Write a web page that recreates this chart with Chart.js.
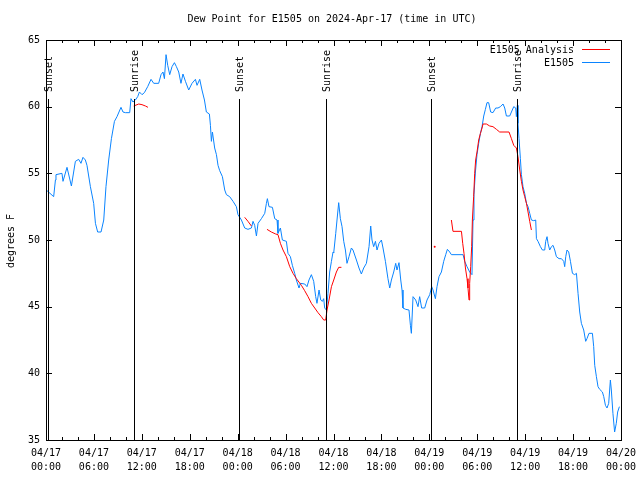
<!DOCTYPE html>
<html>
<head>
<meta charset="utf-8">
<script src="https://cdn.jsdelivr.net/npm/chart.js@4/dist/chart.umd.min.js"></script>
<style>
html,body{margin:0;padding:0;background:#fff;}
#wrap{width:640px;height:480px;position:relative;}
</style>
</head>
<body>
<div id="wrap"><canvas id="c" width="640" height="480"></canvas></div>
<script>
// ---- DATA (hours since 2024-04-17 00:00 UTC) ----
const chartTitle = "Dew Point for E1505 on 2024-Apr-17 (time in UTC)";
const yLabel = "degrees F";
const seriesNames = ["E1505 Analysis", "E1505"];

const obsHours = [0.13,0.96,1.18,1.25,2.0,2.13,2.63,3.18,3.68,4.09,4.38,4.63,4.93,5.13,5.56,5.97,6.19,6.47,6.89,7.23,7.51,7.85,8.19,8.57,8.89,9.39,9.64,9.94,10.48,10.64,10.89,11.19,11.48,11.7,12.02,12.32,12.73,13.15,13.49,14.11,14.4,14.65,14.83,15.03,15.24,15.49,15.78,16.08,16.33,16.62,16.9,17.15,17.46,17.87,18.28,18.71,18.91,19.25,19.53,19.84,20.08,20.46,20.59,20.71,20.84,21.12,21.34,21.54,21.75,22.09,22.38,22.59,23.0,23.42,23.84,24.04,24.47,24.88,25.29,25.72,25.92,26.13,26.35,26.55,26.97,27.39,27.6,27.72,27.92,28.35,28.64,28.93,29.05,29.35,29.6,30.1,30.3,30.6,30.85,31.14,31.35,31.68,31.86,32.4,32.68,32.93,33.23,33.52,33.77,33.93,34.19,34.4,34.61,34.77,34.9,35.11,35.31,35.52,35.74,35.94,36.03,36.28,36.44,36.65,36.86,37.07,37.28,37.49,37.69,37.94,38.24,38.44,38.87,39.19,39.49,39.78,40.12,40.45,40.66,40.82,41.03,41.25,41.45,41.7,42.0,42.2,42.5,42.82,43.04,43.25,43.54,43.79,43.95,44.2,44.42,44.58,44.7,45.04,45.45,45.63,45.75,45.96,46.29,46.58,46.79,47.04,47.42,47.71,48.05,48.3,48.46,48.76,48.96,49.21,49.51,49.8,50.05,50.26,50.55,50.76,52.22,52.43,52.72,53.05,53.34,53.47,53.59,53.77,53.97,54.18,54.4,54.6,54.81,55.02,55.22,55.43,55.68,55.97,56.31,56.6,56.9,57.23,57.44,57.65,58.06,58.28,58.57,58.82,58.9,59.03,59.1,59.23,59.4,59.53,59.73,59.94,60.16,60.36,60.57,60.78,61.07,61.32,61.41,61.61,61.91,62.16,62.45,62.57,62.74,62.86,63.07,63.29,63.49,63.7,63.91,64.24,64.54,64.83,64.95,65.08,65.24,65.45,65.67,65.92,66.2,66.42,66.62,66.83,67.04,67.33,67.58,67.74,67.99,68.42,68.58,68.71,68.92,69.12,69.33,69.67,69.84,70.05,70.25,70.46,70.67,70.79,70.99,71.2,71.41,71.58,71.8];
const obsValues = [53.7,53.25,54.5,54.9,55.0,54.4,55.45,54.05,55.9,56.05,55.75,56.2,56.0,55.6,54.0,52.75,51.25,50.6,50.6,51.5,54.0,56.0,57.6,58.9,59.25,59.95,59.6,59.55,59.55,60.6,60.35,60.5,60.75,61.1,60.9,61.05,61.5,62.05,61.75,61.75,62.4,62.6,62.1,63.9,63.1,62.4,63.0,63.3,63.0,62.6,61.75,62.45,61.9,61.25,61.75,62.05,61.6,62.05,61.25,60.5,59.6,59.45,58.6,57.4,58.1,56.9,56.4,55.6,55.2,54.75,53.75,53.4,53.25,52.9,52.5,51.9,51.5,50.9,50.8,50.9,51.4,51.1,50.3,51.25,51.6,52.0,52.75,53.1,52.5,52.45,51.6,51.5,50.5,50.9,50.0,49.9,49.0,48.75,48.1,47.5,47.0,46.4,46.75,46.7,46.5,47.0,47.4,46.9,45.75,45.25,46.25,45.5,45.4,45.6,44.9,44.75,46.0,47.6,48.4,49.1,49.05,50.5,51.5,52.8,51.6,51.0,49.9,49.25,48.25,48.75,49.4,49.25,48.5,47.9,47.45,47.9,48.25,49.5,51.05,50.0,49.5,49.9,49.25,49.75,50.0,49.4,48.4,47.1,46.4,47.0,47.6,48.25,47.75,48.3,47.0,46.25,44.9,44.8,44.75,43.6,43.0,45.75,45.5,45.0,45.75,44.9,44.9,45.5,45.9,46.5,46.25,45.6,46.5,47.25,47.6,48.4,48.9,49.3,49.1,48.9,48.9,48.4,48.0,47.6,47.4,51.5,53.4,55.1,56.4,57.25,58.0,58.5,59.3,59.8,60.3,60.3,59.6,59.55,59.9,59.9,60.0,60.2,59.9,59.3,59.3,59.6,60.0,59.9,59.25,60.1,58.75,57.6,56.1,54.9,54.0,53.5,52.75,52.5,52.0,51.5,51.45,51.5,50.1,49.9,49.5,49.25,49.25,49.9,50.25,49.75,49.25,49.5,49.6,49.25,48.75,48.6,48.6,48.4,48.0,48.75,49.25,49.1,48.4,47.5,47.4,47.5,46.0,44.6,43.75,43.25,42.4,42.6,43.0,43.0,42.0,40.6,39.75,39.0,38.8,38.6,38.25,37.6,37.4,37.75,39.5,38.75,37.0,35.6,36.25,37.1,37.5];

// analysis series; null marks a gap
const anaHours = [10.98,11.61,12.02,12.45,12.77,18.0,24.88,25.29,25.72,26.5,27.67,28.22,28.76,29.05,29.35,29.68,30.1,30.52,30.93,31.35,31.98,32.39,32.81,33.23,33.65,34.06,34.48,34.77,35.02,35.19,35.44,35.74,36.03,36.36,36.65,36.99,42.0,48.67,49.5,50.76,50.96,52.02,52.18,52.34,52.52,52.72,52.84,52.97,53.05,53.18,53.3,53.39,53.55,53.68,53.8,53.97,54.18,54.4,54.6,54.72,55.15,55.56,55.97,56.4,56.81,57.98,58.28,58.57,58.9,59.1,59.32,59.53,59.73,59.94,60.16,60.36,60.57,60.78];
const anaValues = [60.05,60.2,60.15,60.05,59.95,null,51.7,51.4,51.05,null,50.8,50.6,50.45,50.4,49.75,49.25,48.75,48.0,47.5,47.1,46.6,46.2,45.75,45.25,44.9,44.55,44.25,44.0,44.0,44.75,45.5,46.5,47.0,47.6,47.95,47.95,null,49.5,null,51.5,50.65,50.65,49.75,49.0,47.9,47.1,46.4,45.5,46.75,48.0,49.5,51.5,53.25,55.0,56.0,56.6,57.5,58.0,58.4,58.7,58.7,58.55,58.5,58.3,58.1,58.1,57.6,57.1,56.9,56.25,55.25,54.4,53.75,53.25,52.75,52.1,51.4,50.75];

const sunHours  = [0.22, 11.02, 24.17, 35.06, 48.26, 58.98];
const sunLabels = ["Sunset","Sunrise","Sunset","Sunrise","Sunset","Sunrise"];

const xTickHours = [0,6,12,18,24,30,36,42,48,54,60,66,72];
const xTickDates = ["04/17","04/17","04/17","04/17","04/18","04/18","04/18","04/18","04/19","04/19","04/19","04/19","04/20"];
const xTickTimes = ["00:00","06:00","12:00","18:00","00:00","06:00","12:00","18:00","00:00","06:00","12:00","18:00","00:00"];
const yTicks = [35,40,45,50,55,60,65];

// ---- build ----
const FONT = '10px "DejaVu Sans Mono", "Liberation Mono", monospace';
const BLUE = '#0a84ff';
const RED = '#ff0000';

const obsData = obsHours.map((h,i)=>({x:h,y:obsValues[i]}));
const anaData = anaHours.map((h,i)=>({x:h,y:anaValues[i]}));

function isolated(ctx){
  const d = ctx.dataset.data, i = ctx.dataIndex;
  if (d[i].y === null) return 0;
  const prevNull = i===0 || d[i-1].y===null;
  const nextNull = i===d.length-1 || d[i+1].y===null;
  return (prevNull && nextNull) ? 1 : 0;
}

const decor = {
  id:'decor',
  afterDatasetsDraw(chart){
    const c = chart.ctx, a = chart.chartArea;
    const xs = chart.scales.x, ys = chart.scales.y;
    c.save();
    c.strokeStyle = '#000'; c.fillStyle = '#000'; c.lineWidth = 1;
    // sun lines
    c.font = FONT;
    sunHours.forEach((h,i)=>{
      const px = Math.round(xs.getPixelForValue(h)) + 0.5;
      c.beginPath(); c.moveTo(px, 99); c.lineTo(px, a.bottom); c.stroke();
      c.save();
      c.translate(px + 1, 92);
      c.rotate(-Math.PI/2);
      c.textAlign = 'left'; c.textBaseline = 'middle';
      c.fillText(sunLabels[i], 0, 0);
      c.restore();
    });
    // border
    c.strokeRect(Math.round(a.left)+0.5, Math.round(a.top)+0.5, Math.round(a.right-a.left), Math.round(a.bottom-a.top));
    // x ticks (major every 6h, minor every 2h) bottom & top
    for (let h=0; h<=72; h+=2){
      const px = Math.round(xs.getPixelForValue(h)) + 0.5;
      const len = (h % 6 === 0) ? 6 : 3;
      c.beginPath();
      c.moveTo(px, a.bottom); c.lineTo(px, a.bottom - len);
      c.moveTo(px, a.top); c.lineTo(px, a.top + len);
      c.stroke();
    }
    // y ticks left & right
    yTicks.forEach(v=>{
      const py = Math.round(ys.getPixelForValue(v)) + 0.5;
      c.beginPath();
      c.moveTo(a.left, py); c.lineTo(a.left + 6, py);
      c.moveTo(a.right, py); c.lineTo(a.right - 6, py);
      c.stroke();
    });
    // y tick labels
    c.textAlign = 'right'; c.textBaseline = 'middle';
    yTicks.forEach(v=>{
      c.fillText(String(v), 40, ys.getPixelForValue(v));
    });
    // x tick labels
    c.textAlign = 'center'; c.textBaseline = 'middle';
    xTickHours.forEach((h,i)=>{
      const px = xs.getPixelForValue(h);
      c.fillText(xTickDates[i], px, 453);
      c.fillText(xTickTimes[i], px, 467);
    });
    // title
    c.fillText(chartTitle, 332, 19);
    // y label
    c.save();
    c.translate(11, 241);
    c.rotate(-Math.PI/2);
    c.fillText(yLabel, 0, 0);
    c.restore();
    // legend
    c.textAlign = 'right';
    c.fillText(seriesNames[0], 574, 50);
    c.fillText(seriesNames[1], 574, 63);
    c.strokeStyle = RED;
    c.beginPath(); c.moveTo(582, 49.5); c.lineTo(610, 49.5); c.stroke();
    c.strokeStyle = BLUE;
    c.beginPath(); c.moveTo(582, 62.5); c.lineTo(610, 62.5); c.stroke();
    c.restore();
  }
};

new Chart(document.getElementById('c'), {
  type: 'line',
  data: {
    datasets: [
      { label: seriesNames[1], data: obsData, borderColor: BLUE, backgroundColor: BLUE,
        borderWidth: 1, pointRadius: 0, tension: 0, spanGaps: false, order: 2 },
      { label: seriesNames[0], data: anaData, borderColor: RED, backgroundColor: RED,
        borderWidth: 1, pointRadius: isolated, pointBorderWidth: 0, tension: 0, spanGaps: false, order: 1 }
    ]
  },
  options: {
    responsive: false,
    animation: false,
    parsing: true,
    layout: { padding: { left: 46, right: 19, top: 40, bottom: 40 } },
    plugins: { legend: { display: false }, title: { display: false }, tooltip: { enabled: false } },
    scales: {
      x: { type: 'linear', min: 0, max: 72, display: false },
      y: { type: 'linear', min: 35, max: 65, display: false }
    }
  },
  plugins: [decor]
});
</script>
</body>
</html>
